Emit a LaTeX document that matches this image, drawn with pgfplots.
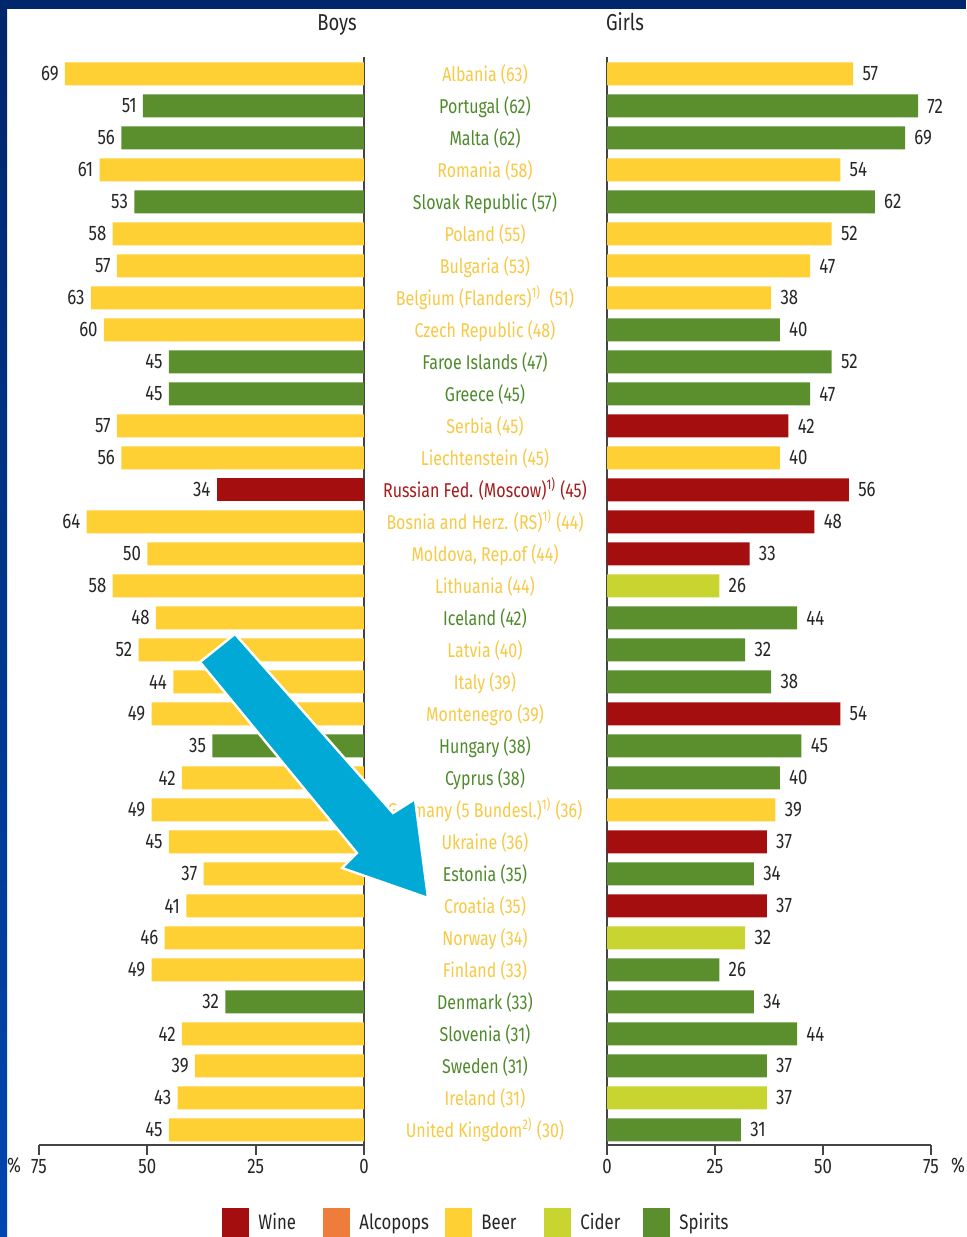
\documentclass[border=0pt]{standalone}
\usepackage{pgfplots}
\pgfplotsset{compat=1.18}
\usepackage{fontspec}
\setmainfont{Fira Sans}[FakeStretch=0.8]

\definecolor{wine}{HTML}{A50E0E}
\definecolor{alcopops}{HTML}{EE7D3B}
\definecolor{beer}{HTML}{FFD034}
\definecolor{cider}{HTML}{C8D530}
\definecolor{spirits}{HTML}{5B8F2E}
\definecolor{beertxt}{HTML}{F8C945}
\definecolor{spiritstxt}{HTML}{4F8A2C}
\definecolor{winetxt}{HTML}{A61B1B}
\definecolor{axgray}{HTML}{444444}
\definecolor{txtgray}{HTML}{262626}
\definecolor{navy}{HTML}{00266B}
\definecolor{frameblue}{HTML}{0046AF}
\definecolor{arrowblue}{HTML}{00A9D6}

\pgfplotsset{
  hbars/.style={
    scale only axis, height=544pt,
    xbar, bar shift=0pt, bar width=11.5pt,
    xmin=0, xmax=75, ymin=-0.53, ymax=33.47, y dir=reverse,
    ytick=\empty, xtick={0,25,50,75},
    axis x line*=bottom,
    tick align=outside, major tick length=5pt,
    axis line style={draw=axgray, line width=1pt},
    tick style={draw=axgray, line width=1pt},
    ticklabel style={font=\fontsize{10.5}{12}\selectfont, text=txtgray},
    xticklabel style={yshift=1.5pt},
    /pgf/number format/assume math mode=true,
    every axis plot/.append style={draw=none},
    nodes near coords,
    every node near coord/.append style={font=\fontsize{10.5}{12}\selectfont, text=txtgray, inner sep=0pt},
    clip=false,
  }
}

\newcommand{\lab}[3]{\node[anchor=base, inner sep=0pt, text=#2, font=\fontsize{10}{12}\selectfont] at (485,{81+32*#1}) {#3};}

\begin{document}
\begin{tikzpicture}
\path[use as bounding box] (0,0) rectangle (483pt,-618.5pt);
\fill[white] (0,0) rectangle (483pt,-618.5pt);

% Boys
\begin{axis}[hbars, at={(19.5pt,-572.5pt)}, anchor=south west, width=162.5pt,
  x dir=reverse, axis y line*=right,
  every node near coord/.append style={anchor=east, xshift=-3pt}]
\addplot[fill=beer] coordinates {(69,0) (61,3) (58,5) (57,6) (63,7) (60,8) (57,11) (56,12) (64,14) (50,15) (58,16) (48,17) (52,18) (44,19) (49,20) (42,22) (49,23) (45,24) (37,25) (41,26) (46,27) (49,28) (42,30) (39,31) (43,32) (45,33)};
\addplot[fill=spirits] coordinates {(51,1) (56,2) (53,4) (45,9) (45,10) (35,21) (32,29)};
\addplot[fill=wine] coordinates {(34,13)};
\end{axis}

% Girls
\begin{axis}[hbars, at={(303.5pt,-572.5pt)}, anchor=south west, width=162pt,
  axis y line*=left,
  every node near coord/.append style={anchor=west, xshift=4.5pt}]
\addplot[fill=beer] coordinates {(57,0) (54,3) (52,5) (47,6) (38,7) (40,12) (39,23)};
\addplot[fill=spirits] coordinates {(72,1) (69,2) (62,4) (40,8) (52,9) (47,10) (44,17) (32,18) (38,19) (45,21) (40,22) (34,25) (26,28) (34,29) (44,30) (37,31) (31,33)};
\addplot[fill=wine] coordinates {(42,11) (56,13) (48,14) (33,15) (54,20) (37,24) (37,26)};
\addplot[fill=cider] coordinates {(26,16) (32,27) (37,32)};
\end{axis}

\begin{scope}[x=0.5pt, y=-0.5pt]
% frame
\fill[navy] (0,0) rectangle (966,9);
\shade[top color=navy, bottom color=frameblue] (0,0) rectangle (7,1237);

% titles
\node[anchor=base, inner sep=0pt, text=txtgray, font=\fontsize{11.5}{14}\selectfont] at (337,30) {Boys};
\node[anchor=base, inner sep=0pt, text=txtgray, font=\fontsize{11.5}{14}\selectfont] at (625,30) {Girls};
\node[anchor=base, inner sep=0pt, text=txtgray, font=\fontsize{10.5}{12}\selectfont] at (14,1172) {\%};
\node[anchor=base, inner sep=0pt, text=txtgray, font=\fontsize{10.5}{12}\selectfont] at (958,1172) {\%};

% country labels
\lab{0}{beertxt}{Albania (63)}
\lab{1}{spiritstxt}{Portugal (62)}
\lab{2}{spiritstxt}{Malta (62)}
\lab{3}{beertxt}{Romania (58)}
\lab{4}{spiritstxt}{Slovak Republic (57)}
\lab{5}{beertxt}{Poland (55)}
\lab{6}{beertxt}{Bulgaria (53)}
\lab{7}{beertxt}{Belgium (Flanders)\textsuperscript{1)}\ \ (51)}
\lab{8}{beertxt}{Czech Republic (48)}
\lab{9}{spiritstxt}{Faroe Islands (47)}
\lab{10}{spiritstxt}{Greece (45)}
\lab{11}{beertxt}{Serbia (45)}
\lab{12}{beertxt}{Liechtenstein (45)}
\lab{13}{winetxt}{Russian Fed. (Moscow)\textsuperscript{1)} (45)}
\lab{14}{beertxt}{Bosnia and Herz. (RS)\textsuperscript{1)} (44)}
\lab{15}{beertxt}{Moldova, Rep.of (44)}
\lab{16}{beertxt}{Lithuania (44)}
\lab{17}{spiritstxt}{Iceland (42)}
\lab{18}{beertxt}{Latvia (40)}
\lab{19}{beertxt}{Italy (39)}
\lab{20}{beertxt}{Montenegro (39)}
\lab{21}{spiritstxt}{Hungary (38)}
\lab{22}{spiritstxt}{Cyprus (38)}
\lab{23}{beertxt}{Germany (5 Bundesl.)\textsuperscript{1)} (36)}
\lab{24}{beertxt}{Ukraine (36)}
\lab{25}{spiritstxt}{Estonia (35)}
\lab{26}{beertxt}{Croatia (35)}
\lab{27}{beertxt}{Norway (34)}
\lab{28}{beertxt}{Finland (33)}
\lab{29}{spiritstxt}{Denmark (33)}
\lab{30}{spiritstxt}{Slovenia (31)}
\lab{31}{spiritstxt}{Sweden (31)}
\lab{32}{beertxt}{Ireland (31)}
\lab{33}{beertxt}{United Kingdom\textsuperscript{2)} (30)}

% legend
\foreach \c/\t/\x in {wine/Wine/222, alcopops/Alcopops/323, beer/Beer/445, cider/Cider/544, spirits/Spirits/643}{
  \fill[\c] (\x,1208) rectangle ++(27,30);
  \node[anchor=base west, text=txtgray, font=\fontsize{10.5}{12}\selectfont, inner sep=0pt] at (\x+36,1229) {\t};
}

% arrow
\filldraw[fill=arrowblue, draw=white, line width=1.2pt, line join=miter]
  (235,634) -- (393,813) -- (415,799) -- (428,898) -- (342,868) -- (357,853) -- (200,662) -- cycle;
\end{scope}
\end{tikzpicture}
\end{document}
